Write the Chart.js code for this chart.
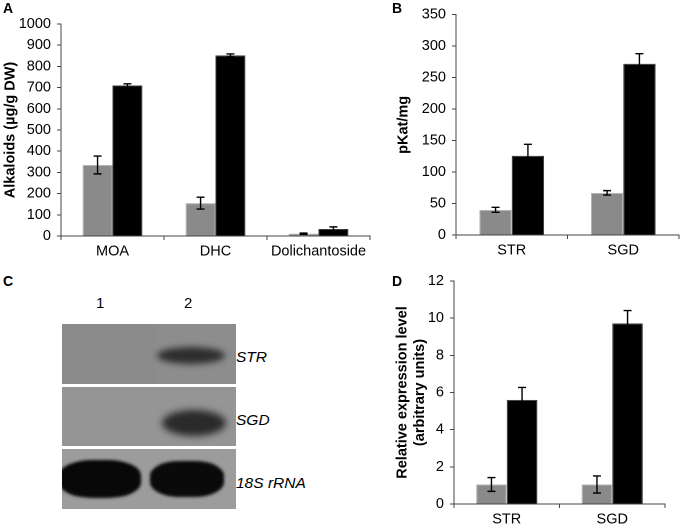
<!DOCTYPE html>
<html>
<head>
<meta charset="utf-8">
<script src="https://cdn.jsdelivr.net/npm/chart.js@4"></script>
<style>
  html, body { margin:0; padding:0; background:#fff; }
  body { width:680px; height:531px; position:relative; overflow:hidden; font-family:"Liberation Sans", Arial, sans-serif; }
  .panel { position:absolute; }
  .letter { position:absolute; font-weight:bold; font-size:14px; color:#000; line-height:1; }
  .lbl { position:absolute; font-size:15px; color:#000; line-height:1; white-space:nowrap; }
  .gelbox { position:absolute; overflow:hidden; }
  .band { position:absolute; border-radius:50%; }
</style>
</head>
<body>
<div class="panel" style="left:0;top:0;width:380px;height:265px;"><canvas id="chA"></canvas></div>
<div class="panel" style="left:380px;top:0;width:300px;height:265px;"><canvas id="chB"></canvas></div>
<div class="panel" style="left:380px;top:265px;width:300px;height:266px;"><canvas id="chD"></canvas></div>

<div class="letter" style="left:3px;top:1px;">A</div>
<div class="letter" style="left:392px;top:1px;">B</div>
<div class="letter" style="left:3px;top:274px;">C</div>
<div class="letter" style="left:392px;top:274px;">D</div>

<!-- Panel C: gel -->
<div class="lbl" style="left:96px;top:295px;">1</div>
<div class="lbl" style="left:184px;top:295px;">2</div>

<div class="gelbox" style="left:62px;top:324px;width:174px;height:60px;background:#8b8b8b;">
  <div style="position:absolute;left:94px;top:0;width:80px;height:60px;background:#8d8d8d;"></div>
  <div class="band" style="left:95px;top:23px;width:68px;height:17px;background:#2e2e2e;filter:blur(3px);"></div>
</div>
<div class="gelbox" style="left:62px;top:387px;width:174px;height:59px;background:#959595;">
  <div class="band" style="left:100px;top:23px;width:64px;height:26px;background:#2a2a2a;filter:blur(3.5px);"></div>
</div>
<div class="gelbox" style="left:62px;top:449px;width:174px;height:60px;background:#9c9c9c;">
  <div class="band" style="left:-3px;top:11px;width:82px;height:38px;background:#080808;filter:blur(1.5px);border-radius:40%;"></div>
  <div class="band" style="left:88px;top:12px;width:74px;height:36px;background:#0a0a0a;filter:blur(1.5px);border-radius:40%;"></div>
</div>
<div class="lbl" style="left:236px;top:349px;font-style:italic;font-size:15.5px;">STR</div>
<div class="lbl" style="left:236px;top:412px;font-style:italic;font-size:15.5px;">SGD</div>
<div class="lbl" style="left:236px;top:475px;font-style:italic;font-size:15.5px;">18S rRNA</div>

<script>
// ---------- data ----------
const catsA = ['MOA', 'DHC', 'Dolichantoside'];
const controlA = [335, 155, 11];
const controlAErr = [42, 28, 3];
const treatedA = [710, 852, 33];
const treatedAErr = [8, 7, 10];

const catsB = ['STR', 'SGD'];
const controlB = [40, 67];
const controlBErr = [4, 3.5];
const treatedB = [126, 272];
const treatedBErr = [18, 16];

const catsD = ['STR', 'SGD'];
const controlD = [1.05, 1.05];
const controlDErr = [0.37, 0.46];
const treatedD = [5.6, 9.72];
const treatedDErr = [0.67, 0.69];

const titleA = 'Alkaloids (µg/g DW)';
const titleB = 'pKat/mg';
const titleD = ['Relative expression level', '(arbitrary units)'];

// ---------- styling ----------
const FONT = '"Liberation Sans", Arial, sans-serif';
const AXIS = '#444';
const GRAY = '#8a8a8a', GRAY_B = '#b3b3b3';
const BLACK = '#000000', BLACK_B = '#3a3a3a';

const errorBars = {
  id: 'errorBars',
  afterDatasetsDraw(chart) {
    const ctx = chart.ctx, ys = chart.scales.y;
    ctx.save();
    ctx.strokeStyle = '#000';
    ctx.lineWidth = 1.4;
    chart.data.datasets.forEach((ds, i) => {
      const meta = chart.getDatasetMeta(i);
      meta.data.forEach((bar, j) => {
        const v = ds.data[j], e = ds.errors[j];
        const x = bar.x;
        const y1 = ys.getPixelForValue(v + e), y2 = ys.getPixelForValue(v - e);
        ctx.beginPath();
        ctx.moveTo(x, y1); ctx.lineTo(x, y2);
        ctx.moveTo(x - 4, y1); ctx.lineTo(x + 4, y1);
        ctx.moveTo(x - 4, y2); ctx.lineTo(x + 4, y2);
        ctx.stroke();
      });
    });
    ctx.restore();
  }
};

function makeChart(id, cats, c, cErr, t, tErr, ymax, step, pad, yW, xH, title, titlePad) {
  return new Chart(document.getElementById(id), {
    type: 'bar',
    data: {
      labels: cats,
      datasets: [
        { data: c, errors: cErr, backgroundColor: GRAY, borderColor: GRAY_B, borderWidth: 1,
          categoryPercentage: 0.58, barPercentage: 1.0 },
        { data: t, errors: tErr, backgroundColor: BLACK, borderColor: BLACK_B, borderWidth: 1,
          categoryPercentage: 0.58, barPercentage: 1.0 }
      ]
    },
    options: {
      responsive: true,
      maintainAspectRatio: false,
      animation: false,
      devicePixelRatio: 2,
      layout: { padding: pad },
      plugins: { legend: { display: false }, tooltip: { enabled: false } },
      scales: {
        x: {
          afterFit(s) { s.height = xH; },
          grid: { display: true, drawOnChartArea: false, drawTicks: true, tickLength: 4, color: AXIS, offset: true },
          border: { display: true, color: AXIS, width: 1 },
          ticks: { color: '#000', font: { family: FONT, size: 14.5 }, padding: 3, maxRotation: 0 }
        },
        y: {
          min: 0, max: ymax,
          afterFit(s) { s.width = yW; },
          grid: { display: true, drawOnChartArea: false, drawTicks: true, tickLength: 4, color: AXIS },
          border: { display: true, color: AXIS, width: 1 },
          ticks: { stepSize: step, color: '#000', font: { family: FONT, size: 14.5 }, padding: 6,
                   callback: (v) => String(v) },
          title: { display: true, text: title, color: '#000', font: { family: FONT, size: 14.5, weight: 'bold' },
                   padding: { top: titlePad, bottom: 0 } }
        }
      }
    },
    plugins: [errorBars]
  });
}

makeChart('chA', catsA, controlA, controlAErr, treatedA, treatedAErr, 1000, 100,
  { top: 24, right: 10, left: 0, bottom: 0 }, 61, 29, titleA, 2);
makeChart('chB', catsB, controlB, controlBErr, treatedB, treatedBErr, 350, 50,
  { top: 14, right: 1, left: 0, bottom: 0 }, 76, 30, titleB, 15);
makeChart('chD', catsD, controlD, controlDErr, treatedD, treatedDErr, 12, 2,
  { top: 16, right: 15, left: 0, bottom: 0 }, 74, 27, titleD, 14);
</script>
</body>
</html>
